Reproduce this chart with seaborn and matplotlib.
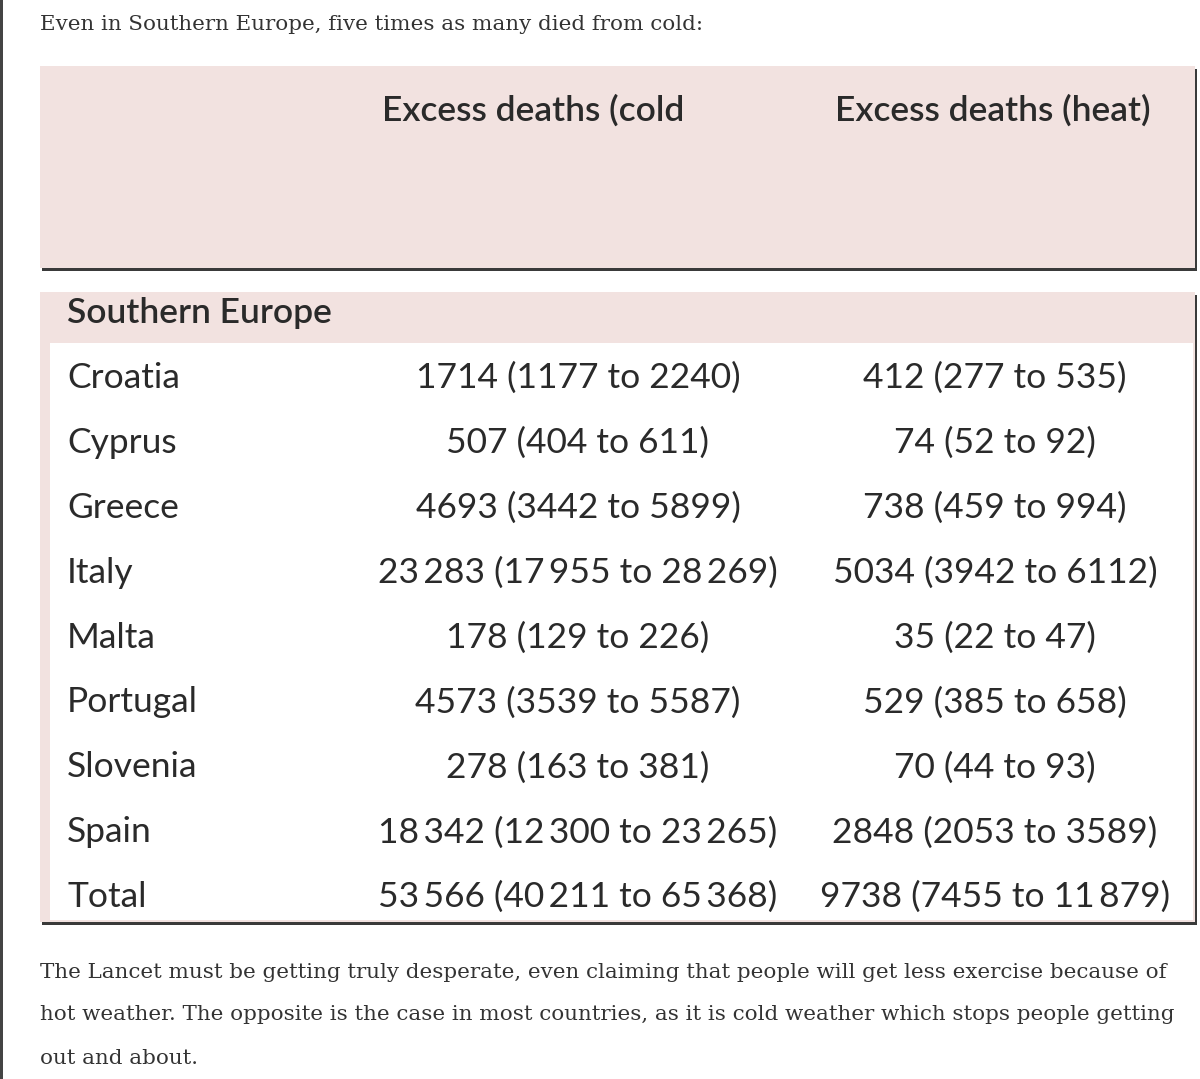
import matplotlib
matplotlib.use("Agg")
import matplotlib.pyplot as plt
import seaborn as sns
from matplotlib.patches import Rectangle

INTRO = "Even in Southern Europe, five times as many died from cold:"
OUTRO = [
    "The Lancet must be getting truly desperate, even claiming that people will get less exercise because of",
    "hot weather. The opposite is the case in most countries, as it is cold weather which stops people getting",
    "out and about.",
]
COL_HEADERS = ["Excess deaths (cold", "Excess deaths (heat)"]
REGION = "Southern Europe"
COUNTRIES = ["Croatia", "Cyprus", "Greece", "Italy", "Malta", "Portugal", "Slovenia", "Spain", "Total"]
COLD = ["1714 (1177 to 2240)", "507 (404 to 611)", "4693 (3442 to 5899)",
        "23\u2009283 (17\u2009955 to 28\u2009269)", "178 (129 to 226)", "4573 (3539 to 5587)",
        "278 (163 to 381)", "18\u2009342 (12\u2009300 to 23\u2009265)", "53\u2009566 (40\u2009211 to 65\u2009368)"]
HEAT = ["412 (277 to 535)", "74 (52 to 92)", "738 (459 to 994)", "5034 (3942 to 6112)",
        "35 (22 to 47)", "529 (385 to 658)", "70 (44 to 93)", "2848 (2053 to 3589)",
        "9738 (7455 to 11\u2009879)"]

PINK = "#f2e2e0"
TEXT = "#2a2a2a"
SHADOW = "#3a3a3a"

sns.set_theme(style="white")
plt.rcParams["font.family"] = ["Lato", "DejaVu Sans"]

fig = plt.figure(figsize=(12, 10.79), dpi=100)
ax = fig.add_axes([0, 0, 1, 1])
ax.set_xlim(0, 1200)
ax.set_ylim(1079, 0)
ax.axis("off")

# left page edge
ax.add_patch(Rectangle((0, 0), 2.5, 1079, color="#444444", lw=0))

serif = ["DejaVu Serif"]
ax.text(40, 25, INTRO, family=serif, fontsize=15.4, color="#333333", va="center", ha="left")
for i, line in enumerate(OUTRO):
    ax.text(40, 972 + i * 43, line, family=serif, fontsize=15.4, color="#333333", va="center", ha="left")

# header box with shadow
ax.add_patch(Rectangle((42, 69), 1155, 202, color=SHADOW, lw=0))
ax.add_patch(Rectangle((40, 66), 1155, 202, color=PINK, lw=0))
col_x = [533, 993]
fs = 25.5
for x, h in zip(col_x, COL_HEADERS):
    ax.text(x, 110, h, fontsize=fs, fontweight="semibold", color=TEXT, ha="center", va="center")

# body box
ax.add_patch(Rectangle((42, 295), 1155, 630, color=SHADOW, lw=0))
ax.add_patch(Rectangle((40, 292), 1155, 630, color=PINK, lw=0))
ax.add_patch(Rectangle((50, 343), 1143, 577, color="white", lw=0))
ax.text(67, 313, REGION, fontsize=fs, fontweight="semibold", color=TEXT, ha="left", va="center")

row0, step = 378, 64.9
val_x = [578, 995]
for i, (c, cold, heat) in enumerate(zip(COUNTRIES, COLD, HEAT)):
    y = row0 + i * step
    ax.text(67, y, c, fontsize=fs, color=TEXT, ha="left", va="center")
    ax.text(val_x[0], y, cold, fontsize=fs, color=TEXT, ha="center", va="center")
    ax.text(val_x[1], y, heat, fontsize=fs, color=TEXT, ha="center", va="center")

fig.savefig("out.png", dpi=100, facecolor="white")
